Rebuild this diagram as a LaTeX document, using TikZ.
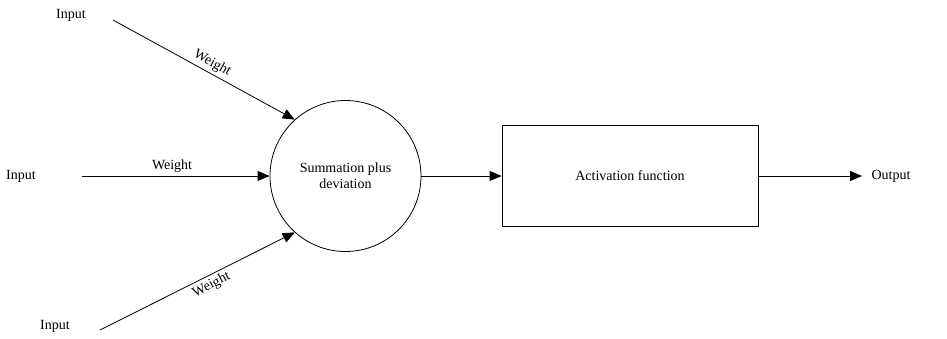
\documentclass[tikz,border=0pt]{standalone}
\usepackage{fontspec}
\setmainfont{Liberation Serif}
\usetikzlibrary{arrows.meta}
\begin{document}
\begin{tikzpicture}[x=1pt,y=-1pt,
  every node/.style={font=\fontsize{14}{16}\selectfont},
  conn/.style={line width=0.8pt,-{Triangle[length=12pt,width=10pt]}},
  lbl/.style={inner sep=3pt}]
\useasboundingbox (0,0) rectangle (947,338);
\node[circle,draw,line width=0.8pt,minimum size=151pt,inner sep=0pt,align=center] (s) at (345.5,176) {Summation plus\\deviation};
\node[draw,line width=0.8pt,minimum width=256pt,minimum height=101pt,inner sep=0pt] (act) at (630,175.5) {Activation function};
\node (in1) at (71,15) {Input};
\node (in2) at (21,176) {Input};
\node (in3) at (55,326) {Input};
\node (out) at (891,176) {Output};
\coordinate (a1) at (113,20);
\coordinate (a2) at (82,176);
\coordinate (a3) at (100,330);
\coordinate (o) at (862,176);
\draw[conn] (a1) -- node[lbl,sloped,above,pos=0.52] (w1) {Weight} (s.132);
\draw[conn] (a2) -- node[lbl,above,pos=0.48] (w2) {Weight} (s.west);
\draw[conn] (a3) -- node[lbl,sloped,below,pos=0.55] (w3) {Weight} (s.228);
\draw[conn] (s.east) -- (act.west |- s.east);
\draw[conn] (act.east |- s.east) -- (o);
\end{tikzpicture}
\end{document}
